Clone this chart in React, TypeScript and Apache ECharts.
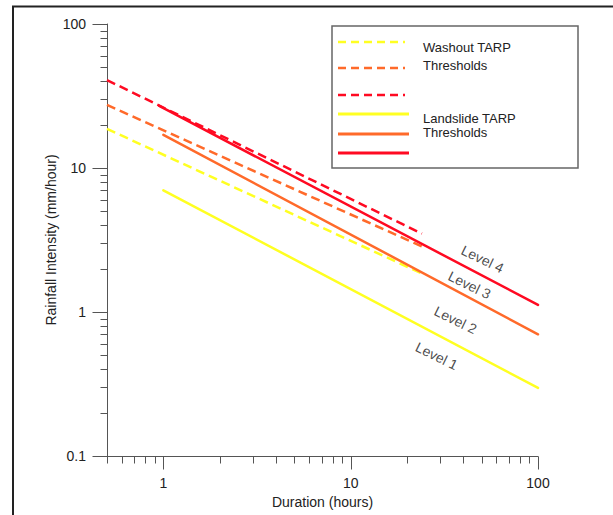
import React, { useEffect, useRef } from 'react';
import * as echarts from 'echarts';

// Washout TARP thresholds (dashed)
const washoutLevel1 = [[0.5, 18.7], [24, 1.85]];
const washoutLevel2 = [[0.5, 27.4], [24, 2.85]];
const washoutLevel3 = [[0.5, 40.8], [24, 3.5]];
// Landslide TARP thresholds (solid)
const landslideLevel1 = [[1, 7.0], [100, 0.297]];
const landslideLevel2 = [[1, 17.0], [100, 0.7]];
const landslideLevel3 = [[0.95, 27.0], [100, 1.12]];

const levelNames = ['Level 1', 'Level 2', 'Level 3', 'Level 4'];
const levelPositions = [[28.8, 0.495], [36.3, 0.88], [43.1, 1.54], [50.6, 2.33]];

const xMajorTicks = [1, 10, 100];
const xMinorTicks = [0.5, 0.6, 0.7, 0.8, 0.9, 2, 3, 4, 5, 6, 7, 8, 9, 20, 30, 40, 50, 60, 70, 80, 90];
const yMajorTicks = [0.1, 1, 10, 100];
const yMinorTicks = [0.2, 0.3, 0.4, 0.5, 0.6, 0.7, 0.8, 0.9, 2, 3, 4, 5, 6, 7, 8, 9, 20, 30, 40, 50, 60, 70, 80, 90];

const X_MIN = 0.5, X_MAX = 100, Y_MIN = 0.1, Y_MAX = 100;

const YELLOW = '#ffff22';
const ORANGE = '#ff6a2a';
const RED = '#ff0a22';
const FONT = "'Liberation Sans', Arial, sans-serif";

const isDecade = (v: number) => {
  const l = Math.log10(v);
  return Math.abs(l - Math.round(l)) < 1e-6;
};

export default function App() {
  const ref = useRef<HTMLDivElement>(null);
  useEffect(() => {
    if (!ref.current) return;
    const chart = echarts.init(ref.current, null, { renderer: 'svg' });

    const tickData: number[][] = [];
    xMajorTicks.forEach((v) => tickData.push([v, Y_MIN, 0, 13]));
    xMinorTicks.forEach((v) => tickData.push([v, Y_MIN, 0, 7]));
    yMajorTicks.forEach((v) => tickData.push([X_MIN, v, 1, 15]));
    yMinorTicks.forEach((v) => tickData.push([X_MIN, v, 1, 7]));

    const dashed = (data: number[][], color: string) => ({
      type: 'line',
      data,
      symbol: 'none',
      silent: true,
      lineStyle: { color, width: 2.5, type: [9, 5], cap: 'butt' },
    });
    const solid = (data: number[][], color: string) => ({
      type: 'line',
      data,
      symbol: 'none',
      silent: true,
      lineStyle: { color, width: 2.5, cap: 'round' },
    });

    const legendY = [42, 68, 95, 114, 134, 153];
    const legendColors = [YELLOW, ORANGE, RED, YELLOW, ORANGE, RED];
    const legendLines = legendY.map((y, i) => ({
      type: 'line',
      silent: true,
      shape: { x1: 338, y1: y, x2: i < 3 ? 405 : 409, y2: y },
      style: {
        stroke: legendColors[i],
        lineWidth: i < 3 ? 2.5 : 3,
        lineDash: i < 3 ? [8, 5] : null,
      },
    }));
    const legendText = (text: string, y: number) => ({
      type: 'text',
      silent: true,
      x: 423,
      y,
      style: { text, fill: '#222', font: `13px ${FONT}`, textVerticalAlign: 'middle', verticalAlign: 'middle' },
    });

    chart.setOption({
      animation: false,
      backgroundColor: '#ffffff',
      grid: { left: 107, right: 75, top: 24, bottom: 59, containLabel: false, outerBoundsMode: 'none' },
      xAxis: {
        type: 'log',
        logBase: 10,
        min: X_MIN,
        max: X_MAX,
        name: 'Duration (hours)',
        nameLocation: 'middle',
        nameGap: 39,
        nameMoveOverlap: false,
        nameTextStyle: { color: '#222', fontSize: 14, fontFamily: FONT },
        axisLine: { show: true, lineStyle: { color: '#555', width: 1 } },
        axisTick: { show: false },
        minorTick: { show: false },
        splitLine: { show: false },
        axisLabel: {
          color: '#222',
          fontSize: 14,
          fontFamily: FONT,
          margin: 20,
          formatter: (v: number) => (isDecade(v) ? String(v) : ''),
        },
      },
      yAxis: {
        type: 'log',
        logBase: 10,
        min: Y_MIN,
        max: Y_MAX,
        name: 'Rainfall Intensity (mm/hour)',
        nameLocation: 'middle',
        nameGap: 49,
        nameMoveOverlap: false,
        nameTextStyle: { color: '#222', fontSize: 14, fontFamily: FONT },
        axisLine: { show: true, lineStyle: { color: '#555', width: 1 } },
        axisTick: { show: false },
        minorTick: { show: false },
        splitLine: { show: false },
        axisLabel: {
          color: '#222',
          fontSize: 14,
          fontFamily: FONT,
          margin: 21,
          formatter: (v: number) => (isDecade(v) ? String(v) : ''),
        },
      },
      series: [
        dashed(washoutLevel1, YELLOW),
        dashed(washoutLevel2, ORANGE),
        dashed(washoutLevel3, RED),
        solid(landslideLevel1, YELLOW),
        solid(landslideLevel2, ORANGE),
        solid(landslideLevel3, RED),
        {
          type: 'scatter',
          silent: true,
          symbolSize: 0,
          data: levelPositions.map((p, i) => ({ value: p, name: levelNames[i] })),
          label: {
            show: true,
            position: 'inside',
            formatter: '{b}',
            rotate: -26,
            color: '#1a1a1a',
            fontSize: 14,
            fontFamily: FONT,
          },
        },
        {
          type: 'custom',
          silent: true,
          clip: false,
          data: tickData,
          renderItem: (_params: any, api: any) => {
            const p = api.coord([api.value(0), api.value(1)]);
            const dir = api.value(2);
            const len = api.value(3);
            const x = Math.round(p[0]) + 0.5;
            const y = Math.round(p[1]) + 0.5;
            const shape = dir === 0
              ? { x1: x, y1: y, x2: x, y2: y + len }
              : { x1: x, y1: y, x2: x - len, y2: y };
            return { type: 'line', shape, style: { stroke: '#555', lineWidth: 1 } };
          },
        },
      ],
      graphic: [
        {
          type: 'rect',
          silent: true,
          shape: { x: 13, y: 6.5, width: 700, height: 600 },
          style: { fill: 'none', stroke: '#222', lineWidth: 2 },
        },
        {
          type: 'rect',
          silent: true,
          shape: { x: 332, y: 26, width: 246, height: 142 },
          style: { fill: '#fff', stroke: '#666', lineWidth: 1.5 },
        },
        ...legendLines,
        legendText('Washout TARP', 47),
        legendText('Thresholds', 65),
        legendText('Landslide TARP', 118),
        legendText('Thresholds', 132),
      ],
    });
    return () => chart.dispose();
  }, []);
  return (
    <div
      ref={ref}
      style={{ position: 'fixed', left: 0, top: 0, width: 613, height: 515, background: '#fff' }}
    />
  );
}
